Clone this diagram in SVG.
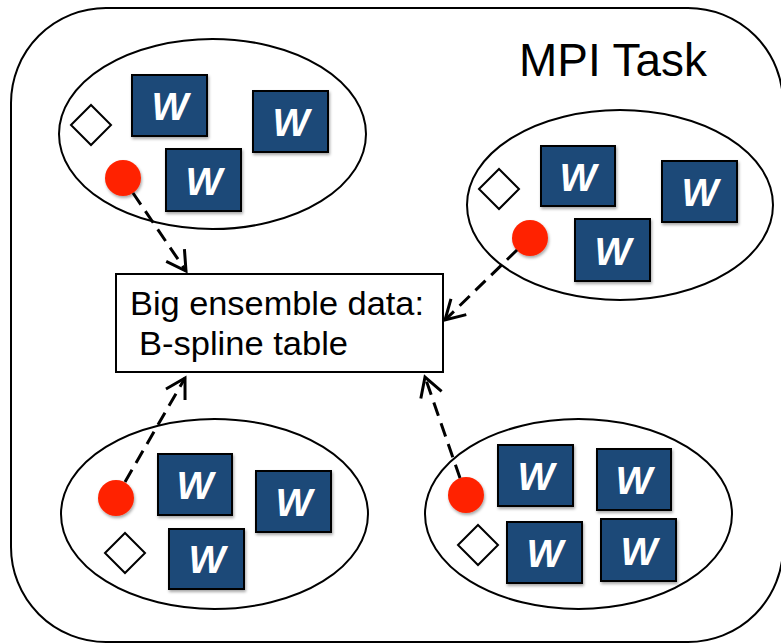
<svg xmlns="http://www.w3.org/2000/svg" width="781" height="644" viewBox="0 0 781 644">
  <defs>
    <style>
      .frame { fill: #ffffff; stroke: #000000; stroke-width: 2; }
      .group { fill: #ffffff; stroke: #000000; stroke-width: 2; }
      .worker rect { fill: #1f4978; stroke: #000000; stroke-width: 2; filter: url(#shadow); }
      .worker text { fill: #ffffff; font-family: "Liberation Sans", Arial, sans-serif; font-weight: bold; font-style: italic; font-size: 39px; text-anchor: middle; }
      .token { fill: #ff2400; filter: url(#shadow); }
      .marker-shape { fill: #ffffff; stroke: #000000; stroke-width: 2; }
      .link { fill: none; stroke: #000000; stroke-width: 3; stroke-dasharray: 14 8; marker-end: url(#arrow); }
      .label { font-family: "Liberation Sans", Arial, sans-serif; fill: #000000; }
    </style>
    <filter id="shadow" x="-20%" y="-20%" width="150%" height="150%">
      <feDropShadow dx="1" dy="2" stdDeviation="1.5" flood-color="#000000" flood-opacity="0.35"/>
    </filter>
    <marker id="arrow" markerUnits="userSpaceOnUse" markerWidth="30" markerHeight="30" viewBox="-22 -15 26 30" refX="0" refY="0" orient="auto">
      <path d="M -19 -11 L 0 0 L -19 11" fill="none" stroke="#000000" stroke-width="3" stroke-linejoin="miter"/>
    </marker>
  </defs>

  <!-- outer MPI task container -->
  <g id="mpi-task">
    <rect class="frame" x="11" y="8" width="772" height="634" rx="95" ry="95"/>
    <text class="label" x="519" y="76" font-size="46" textLength="188" lengthAdjust="spacingAndGlyphs">MPI Task</text>
  </g>

  <!-- shared table -->
  <g id="table">
    <rect x="116" y="274" width="327" height="98" fill="#ffffff" stroke="#000000" stroke-width="2"/>
    <text class="label" x="130" y="315" font-size="34" textLength="294" lengthAdjust="spacingAndGlyphs">Big ensemble data:</text>
    <text class="label" x="139" y="355" font-size="34" textLength="209" lengthAdjust="spacingAndGlyphs">B-spline table</text>
  </g>

  <!-- thread group, top left -->
  <g id="group-top-left">
    <ellipse class="group" cx="212.5" cy="134" rx="153.5" ry="95"/>
    <polygon class="marker-shape" points="71,125 91,105 111,125 91,145"/>
    <circle class="token" cx="123" cy="178" r="18"/>
    <g class="worker"><rect x="132" y="75" width="75" height="61"/><text x="170" y="120">W</text></g>
    <g class="worker"><rect x="253" y="91" width="75" height="61"/><text x="291" y="136">W</text></g>
    <g class="worker"><rect x="166" y="149" width="75" height="62"/><text x="204" y="195">W</text></g>
  </g>

  <!-- thread group, top right -->
  <g id="group-top-right">
    <ellipse class="group" cx="620" cy="205" rx="153" ry="95"/>
    <polygon class="marker-shape" points="479,189 499,169 519,189 499,209"/>
    <circle class="token" cx="530" cy="238" r="18"/>
    <g class="worker"><rect x="541" y="146" width="74" height="60"/><text x="578" y="191">W</text></g>
    <g class="worker"><rect x="662" y="161" width="75" height="61"/><text x="700" y="206">W</text></g>
    <g class="worker"><rect x="575" y="219" width="75" height="62"/><text x="613" y="265">W</text></g>
  </g>

  <!-- thread group, bottom left -->
  <g id="group-bottom-left">
    <ellipse class="group" cx="214.5" cy="514" rx="153.5" ry="95"/>
    <polygon class="marker-shape" points="105,553 125,533 145,553 125,573"/>
    <circle class="token" cx="116" cy="498" r="18"/>
    <g class="worker"><rect x="158" y="454" width="74" height="61"/><text x="195" y="499">W</text></g>
    <g class="worker"><rect x="256" y="471" width="75" height="61"/><text x="294" y="516">W</text></g>
    <g class="worker"><rect x="169" y="529" width="75" height="60"/><text x="207" y="573">W</text></g>
  </g>

  <!-- thread group, bottom right -->
  <g id="group-bottom-right">
    <ellipse class="group" cx="578.5" cy="514" rx="153.5" ry="95"/>
    <polygon class="marker-shape" points="458,545 478,525 498,545 478,565"/>
    <circle class="token" cx="466" cy="495" r="18"/>
    <g class="worker"><rect x="498" y="445" width="75" height="61"/><text x="536" y="490">W</text></g>
    <g class="worker"><rect x="597" y="449" width="74" height="61"/><text x="634" y="494">W</text></g>
    <g class="worker"><rect x="507" y="522" width="75" height="61"/><text x="545" y="567">W</text></g>
    <g class="worker"><rect x="601" y="519" width="75" height="62"/><text x="639" y="565">W</text></g>
  </g>

  <!-- accesses to the shared table -->
  <g id="connectors">
    <line class="link" x1="133" y1="193" x2="186" y2="271"/>
    <line class="link" x1="517" y1="250" x2="445" y2="320"/>
    <line class="link" x1="125" y1="482" x2="185" y2="378"/>
    <line class="link" x1="460" y1="478" x2="425" y2="377"/>
  </g>
</svg>
